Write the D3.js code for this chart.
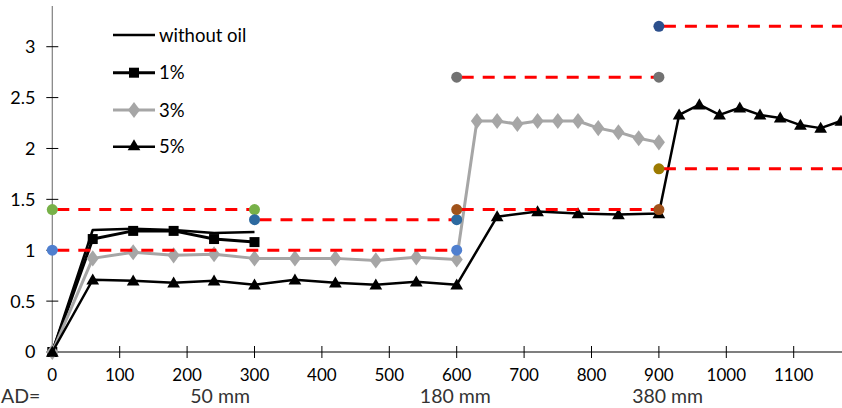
<!DOCTYPE html>
<html><head><meta charset="utf-8">
<script src="https://cdn.jsdelivr.net/npm/d3@7"></script>
<style>
html,body{margin:0;padding:0;background:#fff;overflow:hidden;}
svg{display:block;font-family:Lato,"Liberation Sans",sans-serif;}
</style></head>
<body>
<svg id="c" width="842" height="408"></svg>
<script>
// ---- data ----
const withoutOilX = [0, 60, 120, 180, 240, 300];
const withoutOilY = [0, 1.20, 1.21, 1.20, 1.17, 1.18];

const oil1X = [0, 60, 120, 180, 240, 300];
const oil1Y = [0, 1.11, 1.19, 1.19, 1.11, 1.08];

const oil3X = [0, 60, 120, 180, 240, 300, 360, 420, 480, 540, 600, 630, 660, 690, 720, 750, 780, 810, 840, 870, 900];
const oil3Y = [0, 0.92, 0.98, 0.95, 0.96, 0.92, 0.92, 0.92, 0.90, 0.93, 0.91, 2.27, 2.27, 2.24, 2.27, 2.27, 2.27, 2.20, 2.16, 2.10, 2.06];

const oil5X = [0, 60, 120, 180, 240, 300, 360, 420, 480, 540, 600, 660, 720, 780, 840, 900, 930, 960, 990, 1020, 1050, 1080, 1110, 1140, 1170];
const oil5Y = [0, 0.71, 0.70, 0.68, 0.70, 0.66, 0.71, 0.68, 0.66, 0.69, 0.66, 1.33, 1.38, 1.36, 1.35, 1.36, 2.33, 2.43, 2.33, 2.40, 2.33, 2.30, 2.23, 2.20, 2.27];

// reference levels
const refStartX = [0, 0, 300, 600, 600, 900, 900];
const refEndX   = [300, 600, 600, 900, 900, 1200, 1200];
const refValue  = [1.4, 1.0, 1.3, 1.4, 2.7, 1.8, 3.2];
const refStartColor = ["#77b148", "#4f7fcf", "#2d6aa0", "#a0521a", "#727272", "#9c7a00", "#2c4f8c"];
const refEndColor   = ["#77b148", "#4f7fcf", "#2d6aa0", "#a0521a", "#727272", null, null];

const xTicks = [0, 100, 200, 300, 400, 500, 600, 700, 800, 900, 1000, 1100, 1200];
const yTicks = [0, 0.5, 1, 1.5, 2, 2.5, 3];
const yTickLabels = ["0", "0.5", "1", "1.5", "2", "2.5", "3"];
const legendNames = ["without oil", "1%", "3%", "5%"];
const sectionLabels = ["50 mm", "180 mm", "380 mm"];
const sectionCenters = [249, 598, 913];
const adLabel = "AD=";

// ---- scales ----
const svg = d3.select("#c");
const x = d3.scaleLinear().domain([0, 1200]).range([52.3, 861.1]);
const y = d3.scaleLinear().domain([0, 3.4]).range([352, 6]);

// ---- axes ----
const gy = svg.append("g");
gy.append("line").attr("x1", x(0)).attr("x2", x(0)).attr("y1", y(3.4)).attr("y2", y(0))
  .attr("stroke", "#7f7f7f").attr("stroke-width", 1.2);
yTicks.forEach((t, i) => {
  gy.append("line").attr("x1", x(0) - 6).attr("x2", x(0) + 6).attr("y1", y(t)).attr("y2", y(t))
    .attr("stroke", "#000").attr("stroke-width", 1);
  gy.append("text").attr("x", 35.5).attr("y", y(t)).attr("dy", "0.36em")
    .attr("text-anchor", "end").attr("font-size", 18).attr("fill", "#000").text(yTickLabels[i]);
});

const gx = svg.append("g");
gx.append("line").attr("x1", x(0)).attr("x2", x(1200)).attr("y1", y(0)).attr("y2", y(0))
  .attr("stroke", "#000").attr("stroke-width", 1.2);
xTicks.forEach(t => {
  gx.append("line").attr("x1", x(t)).attr("x2", x(t)).attr("y1", y(0) - 6).attr("y2", y(0) + 6)
    .attr("stroke", "#000").attr("stroke-width", 1);
  gx.append("text").attr("x", x(t)).attr("y", 381).attr("text-anchor", "middle")
    .attr("font-size", 17).attr("fill", "#000").text(t);
});
sectionLabels.forEach((s, i) => {
  gx.append("text").attr("x", x(sectionCenters[i])).attr("y", 402.5).attr("text-anchor", "middle")
    .attr("font-size", 19.5).attr("fill", "#333").text(s);
});
gx.append("text").attr("x", 1).attr("y", 402.5).attr("text-anchor", "start")
  .attr("font-size", 19.5).attr("fill", "#333").text(adLabel);

// ---- series ----
const line = d3.line().x(d => x(d[0])).y(d => y(d[1]));
const zip = (a, b) => a.map((v, i) => [v, b[i]]);
const series = [
  {xs: withoutOilX, ys: withoutOilY, color: "#000", w: 2.5, marker: null},
  {xs: oil1X, ys: oil1Y, color: "#000", w: 3, marker: "square"},
  {xs: oil3X, ys: oil3Y, color: "#a6a6a6", w: 3, marker: "diamond"},
  {xs: oil5X, ys: oil5Y, color: "#000", w: 2.5, marker: "triangle"}
];
const symType = {square: d3.symbolSquare, diamond: d3.symbolDiamond, triangle: d3.symbolTriangle};
const symSize = {square: 100, diamond: 75, triangle: 70};

const gs = svg.append("g");
series.forEach(s => {
  const pts = zip(s.xs, s.ys);
  gs.append("path").attr("d", line(pts)).attr("fill", "none").attr("stroke", s.color)
    .attr("stroke-width", s.w).attr("stroke-linejoin", "round");
  if (s.marker) {
    const sym = d3.symbol().type(symType[s.marker]).size(symSize[s.marker]);
    gs.selectAll(null).data(pts).enter().append("path")
      .attr("d", sym).attr("fill", s.color)
      .attr("transform", d => `translate(${x(d[0])},${y(d[1]) + (s.marker === "triangle" ? 1 : 0)})` + (s.marker === "diamond" ? " scale(1.3,1)" : ""));
  }
});

// ---- reference lines and points ----
const gr = svg.append("g");
refValue.forEach((v, i) => {
  gr.append("line").attr("x1", x(refStartX[i])).attr("x2", x(refEndX[i]))
    .attr("y1", y(v)).attr("y2", y(v))
    .attr("stroke", "#ff0000").attr("stroke-width", 3).attr("stroke-dasharray", "12,9")
    .attr("stroke-dashoffset", -5);
});
refValue.forEach((v, i) => {
  gr.append("circle").attr("cx", x(refStartX[i])).attr("cy", y(v)).attr("r", 5.5).attr("fill", refStartColor[i]);
  if (refEndColor[i]) gr.append("circle").attr("cx", x(refEndX[i])).attr("cy", y(v)).attr("r", 5.5).attr("fill", refEndColor[i]);
});

// ---- legend ----
const gl = svg.append("g");
const legY = [35, 72.7, 110, 146.7];
series.forEach((s, i) => {
  gl.append("line").attr("x1", 113).attr("x2", 155).attr("y1", legY[i]).attr("y2", legY[i])
    .attr("stroke", s.color).attr("stroke-width", s.w);
  if (s.marker) {
    const sym = d3.symbol().type(symType[s.marker]).size(symSize[s.marker]);
    gl.append("path").attr("d", sym).attr("fill", s.color)
      .attr("transform", `translate(134,${legY[i]})` + (s.marker === "diamond" ? " scale(1.3,1)" : ""));
  }
  gl.append("text").attr("x", 159).attr("y", legY[i]).attr("dy", "0.36em")
    .attr("font-size", 18.5).attr("fill", "#000").text(legendNames[i]);
});
</script>
</body></html>
